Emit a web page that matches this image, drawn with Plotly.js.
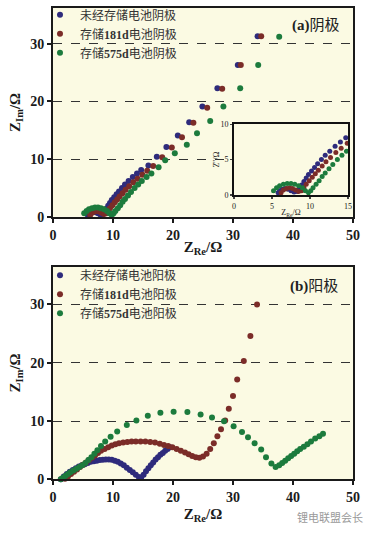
<!DOCTYPE html>
<html><head><meta charset="utf-8">
<script src="https://cdn.plot.ly/plotly-3.0.1.min.js"></script>
<style>html,body{margin:0;padding:0;background:#fff;}#chart{width:372px;height:533px;}</style>
</head><body><div id="chart"></div>
<script>
// ---- Panel (a): cathode ----
const aNames = ['未经存储电池阴极', '存储<b>181d</b>电池阴极', '存储<b>575d</b>电池阴极'];
const aBlueX = [5.8,6.0,6.3,6.7,7.1,7.5,7.9,8.3,8.6,8.9,9.2,9.5,9.8,10.2,10.6,11.0,11.5,12.0,12.6,13.3,14.0,14.7,15.9,17.3,18.9,20.8,22.7,24.9,27.4,30.8,34.1];
const aBlueY = [0.3,0.6,0.8,0.9,0.8,0.6,0.4,0.5,0.9,1.4,1.9,2.4,2.9,3.4,3.9,4.4,5.0,5.6,6.2,6.9,7.5,8.1,8.9,10.4,12.1,14.1,16.4,19.1,22.3,26.3,31.3];
const aRedX = [6.2,6.5,6.9,7.3,7.7,8.1,8.5,8.9,9.2,9.5,9.9,10.3,10.7,11.1,11.6,12.1,12.7,13.4,14.1,14.9,15.7,16.7,18.2,19.8,21.5,23.4,25.7,28.2,31.3,34.7];
const aRedY = [0.3,0.7,0.9,1.0,0.9,0.7,0.5,0.6,1.0,1.5,2.0,2.5,3.0,3.5,4.1,4.7,5.3,6.0,6.6,7.3,8.0,8.8,10.3,12.0,13.8,16.3,18.9,22.2,26.3,31.3];
const aGreenX = [5.2,5.6,6.0,6.5,7.0,7.5,8.0,8.5,9.0,9.4,9.8,10.1,10.4,10.8,11.2,11.6,12.0,12.5,13.0,13.6,14.2,14.8,15.6,16.4,17.6,18.7,20.3,22.3,24.0,26.2,28.4,31.2,34.2,37.7];
const aGreenY = [0.6,1.0,1.3,1.5,1.6,1.6,1.5,1.3,1.0,0.6,0.3,0.6,1.0,1.5,2.0,2.6,3.1,3.7,4.3,5.0,5.6,6.2,6.9,7.5,8.6,9.8,11.0,12.5,14.5,16.6,19.1,22.3,26.3,31.2];

// ---- Panel (b): anode ----
const bNames = ['未经存储电池阳极', '存储<b>181d</b>电池阳极', '存储<b>575d</b>电池阳极'];
const bBlueX = [1.3,1.8,2.3,2.8,3.3,3.8,4.3,4.8,5.3,5.8,6.3,6.8,7.3,7.8,8.3,8.8,9.3,9.8,10.3,10.8,11.3,11.8,12.3,12.8,13.3,13.8,14.3,14.7,15.1,15.5,15.9,16.3,16.7,17.1,17.5,17.9,18.3,18.7,19.1,19.5];
const bBlueY = [0.0,0.5,0.9,1.3,1.6,1.9,2.2,2.4,2.6,2.8,3.0,3.1,3.2,3.3,3.35,3.4,3.4,3.35,3.2,3.0,2.7,2.4,2.0,1.6,1.2,0.8,0.4,0.3,0.8,1.4,1.9,2.4,2.9,3.4,3.8,4.2,4.5,4.9,5.2,5.5];
const bRedX = [2.0,2.5,3.0,3.5,4.0,4.5,5.0,5.5,6.0,6.5,7.0,7.5,8.0,8.6,9.2,9.8,10.4,11.0,11.7,12.4,13.1,13.8,14.6,15.4,16.2,17.0,17.8,18.5,19.2,19.9,20.6,21.3,22.0,22.6,23.2,23.8,24.4,25.0,25.6,26.2,26.8,27.4,28.0,28.7,29.3,30.0,30.7,31.8,32.9,34.0];
const bRedY = [0.1,0.5,0.9,1.3,1.7,2.1,2.5,2.9,3.3,3.7,4.1,4.5,4.9,5.2,5.5,5.8,6.0,6.2,6.3,6.4,6.5,6.5,6.5,6.5,6.4,6.3,6.1,5.9,5.7,5.5,5.2,4.9,4.6,4.3,4.0,3.8,3.7,3.9,4.4,5.2,6.2,7.4,8.6,10.1,12.1,14.3,17.1,20.3,24.6,30.0];
const bGreenX = [1.3,1.7,2.1,2.5,2.9,3.4,3.9,4.4,4.9,5.4,5.9,6.4,6.9,7.4,8.0,8.7,9.6,10.7,12.3,13.9,15.8,17.9,20.1,22.4,24.6,26.5,28.5,30.1,31.5,32.5,33.6,34.7,35.5,36.4,37.1,37.7,38.2,38.7,39.2,39.7,40.2,40.7,41.2,41.8,42.4,43.0,43.7,44.4,45.0];
const bGreenY = [0.0,0.3,0.6,0.9,1.2,1.5,1.8,2.1,2.4,2.8,3.3,3.8,4.4,5.0,5.7,6.5,7.3,8.2,9.3,10.1,10.9,11.4,11.6,11.55,11.1,10.6,9.95,9.1,8.1,7.2,6.2,5.1,3.8,2.7,2.1,2.4,2.8,3.2,3.6,4.0,4.4,4.8,5.2,5.6,6.0,6.5,7.0,7.4,7.8];

const colors = ['#2e2b7c', '#7b2c28', '#1c7b3d'];
const W = 372, H = 533;
const px = v => v / W, py = v => 1 - v / H;

const serif = 'Liberation Serif, Noto Sans CJK SC, serif';

function tr(x, y, name, c, xa, ya, leg, show, size) {
  return {x: x, y: y, name: name, type: 'scatter', mode: 'markers',
    xaxis: xa, yaxis: ya, legend: leg, showlegend: show,
    cliponaxis: xa === 'x3',
    marker: {color: c, size: size}};
}
const aX = [aBlueX, aRedX, aGreenX], aY = [aBlueY, aRedY, aGreenY];
const bX = [bBlueX, bRedX, bGreenX], bY = [bBlueY, bRedY, bGreenY];
const data = [];
for (let i = 0; i < 3; i++) data.push(tr(aX[i], aY[i], aNames[i], colors[i], 'x', 'y', 'legend', true, 6));
for (let i = 0; i < 3; i++) data.push(tr(bX[i], bY[i], bNames[i], colors[i], 'x2', 'y2', 'legend2', true, 6));
for (let i = 0; i < 3; i++) data.push(tr(aX[i], aY[i], aNames[i], colors[i], 'x3', 'y3', 'legend', false, 5));

const tickfont = {family: serif, size: 14, color: '#1a1a1a', weight: 'bold'};
function mainX(dom, anchor, standoff) {
  return {domain: dom, anchor: anchor, range: [0, 50], dtick: 10, showgrid: false, zeroline: false,
    showline: true, linewidth: 2, linecolor: '#1a1a1a', mirror: true,
    ticks: 'outside', ticklen: 4, tickwidth: 2, tickcolor: '#1a1a1a', tickfont: tickfont,
    title: {text: 'Z<sub>Re</sub>/Ω', font: {family: serif, size: 15, color: '#1a1a1a', weight: 'bold'}, standoff: standoff}};
}
function mainY(dom, anchor, top) {
  return {domain: dom, anchor: anchor, range: [0, top], dtick: 10, zeroline: false,
    showgrid: true, gridcolor: '#333', griddash: 'dash', gridwidth: 1,
    showline: true, linewidth: 2, linecolor: '#1a1a1a', mirror: true,
    ticks: 'outside', ticklen: 4, tickwidth: 2, tickcolor: '#1a1a1a', tickfont: tickfont,
    title: {text: 'Z<sub>Im</sub>/Ω', font: {family: serif, size: 15, color: '#1a1a1a', weight: 'bold'}, standoff: 6}};
}
const legFont = {family: serif, size: 12, color: '#333'};
const layout = {
  width: W, height: H, margin: {l: 0, r: 0, t: 0, b: 0},
  paper_bgcolor: '#ffffff', plot_bgcolor: '#fbfae3',
  xaxis: mainX([px(53), px(353)], 'y', 0),
  yaxis: mainY([py(215), py(5)], 'x', 36.2),
  xaxis2: mainX([px(53), px(353)], 'y2', 4),
  yaxis2: mainY([py(479), py(265)], 'x2', 36.5),
  xaxis3: {domain: [px(234), px(348)], anchor: 'y3', range: [0, 15], dtick: 5, showgrid: false, zeroline: false,
    showline: true, linewidth: 2, linecolor: '#111', mirror: true, ticks: 'outside', ticklen: 2, tickwidth: 1.5,
    tickfont: {family: serif, size: 8, color: '#222'},
    title: {text: 'Z<sub>Re</sub>/Ω', font: {family: serif, size: 8, color: '#222'}, standoff: 0}},
  yaxis3: {domain: [py(193), py(122)], anchor: 'x3', range: [0, 10], dtick: 5, showgrid: false, zeroline: false,
    showline: true, linewidth: 2, linecolor: '#111', mirror: true, ticks: 'outside', ticklen: 2, tickwidth: 1.5,
    tickfont: {family: serif, size: 8, color: '#222'},
    title: {text: "Z''/Ω", font: {family: serif, size: 8, color: '#222'}, standoff: 0}},
  legend: {x: px(40), y: py(31), xanchor: 'left', yanchor: 'middle', bgcolor: 'rgba(0,0,0,0)', font: legFont, itemsizing: 'trace'},
  legend2: {x: px(40), y: py(293), xanchor: 'left', yanchor: 'middle', bgcolor: 'rgba(0,0,0,0)', font: legFont, itemsizing: 'trace'},
  annotations: [
    {text: '<b>(a)</b>阴极', x: px(316), y: py(23), xref: 'paper', yref: 'paper', xanchor: 'center', yanchor: 'middle',
     showarrow: false, font: {family: serif, size: 15, color: '#222'}},
    {text: '<b>(b)</b>阳极', x: px(314), y: py(285), xref: 'paper', yref: 'paper', xanchor: 'center', yanchor: 'middle',
     showarrow: false, font: {family: serif, size: 15, color: '#222'}},
    {text: '锂电联盟会长', x: px(330), y: py(517), xref: 'paper', yref: 'paper', xanchor: 'center', yanchor: 'middle',
     showarrow: false, font: {family: 'Noto Sans CJK SC, sans-serif', size: 11, color: '#9a9a9a'}}
  ]
};
Plotly.newPlot('chart', data, layout, {displayModeBar: false, staticPlot: true});
</script></body></html>
